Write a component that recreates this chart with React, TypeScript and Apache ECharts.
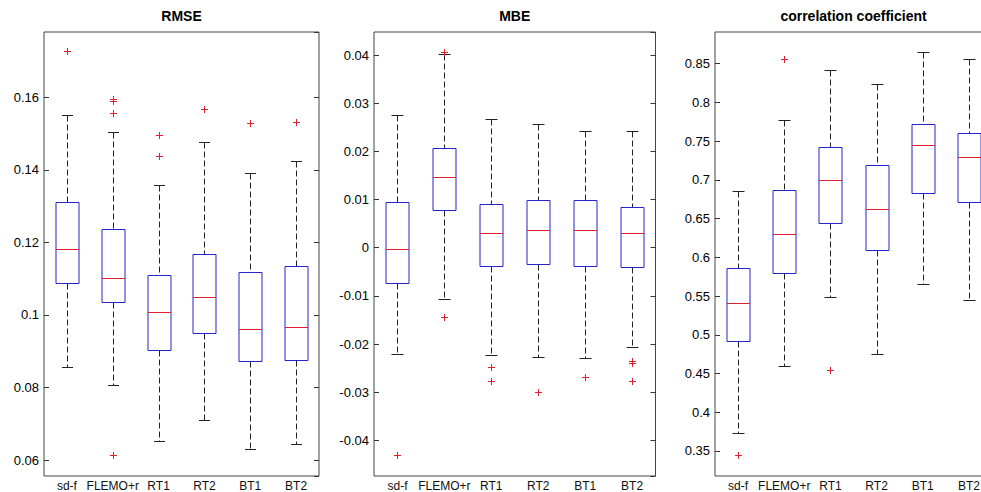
import React, { useEffect, useRef } from 'react';
import * as echarts from 'echarts';

const categories = ['sd-f', 'FLEMO+r', 'RT1', 'RT2', 'BT1', 'BT2'];

// [lower whisker, Q1, median, Q3, upper whisker]
const rmseBoxes = [
  [0.0857, 0.1089, 0.1183, 0.1311, 0.1552],
  [0.0807, 0.1035, 0.1103, 0.1236, 0.1504],
  [0.0652, 0.0903, 0.1009, 0.1111, 0.1357],
  [0.0710, 0.0950, 0.1050, 0.1169, 0.1476],
  [0.0631, 0.0873, 0.0961, 0.1118, 0.1390],
  [0.0644, 0.0877, 0.0966, 0.1135, 0.1424],
];
const rmseOutliers = [
  [0, 0.1727], [1, 0.1594], [1, 0.1589], [1, 0.1557], [1, 0.0614],
  [2, 0.1497], [2, 0.1439], [3, 0.1568], [4, 0.1529], [5, 0.1533],
];

const mbeBoxes = [
  [-0.0221, -0.0074, -0.0002, 0.0094, 0.0276],
  [-0.0106, 0.0079, 0.0146, 0.0207, 0.0402],
  [-0.0222, -0.0037, 0.0030, 0.0091, 0.0268],
  [-0.0226, -0.0034, 0.0036, 0.0099, 0.0257],
  [-0.0230, -0.0037, 0.0036, 0.0100, 0.0243],
  [-0.0206, -0.0041, 0.0030, 0.0085, 0.0243],
];
const mbeOutliers = [
  [0, -0.0430], [1, 0.0407], [1, -0.0143], [2, -0.0248], [2, -0.0277],
  [3, -0.0300], [4, -0.0269], [5, -0.0236], [5, -0.0240], [5, -0.0277],
];

const corrBoxes = [
  [0.3733, 0.4917, 0.5406, 0.5863, 0.6854],
  [0.4596, 0.5793, 0.6302, 0.6867, 0.7767],
  [0.5492, 0.6440, 0.6996, 0.7419, 0.8417],
  [0.4746, 0.6090, 0.6629, 0.7185, 0.8233],
  [0.5655, 0.6836, 0.7452, 0.7723, 0.8646],
  [0.5448, 0.6716, 0.7297, 0.7599, 0.8559],
];
const corrOutliers = [[0, 0.3448], [1, 0.8565], [2, 0.4548]];

const panelTitles = ['RMSE', 'MBE', 'correlation coefficient'];
const yRanges = [
  { min: 0.0556, max: 0.178, splitNumber: 5 },
  { min: -0.0474, max: 0.0448, splitNumber: 9 },
  { min: 0.3177, max: 0.8908, splitNumber: 11 },
];

const FONT = '"Liberation Sans", Arial, Helvetica, sans-serif';
const BLUE = '#2323d0';
const RED = '#e0202e';
const DARK = '#222';

const grids = [
  { left: 44, top: 32, width: 275, height: 444 },
  { left: 374, top: 32, width: 281.5, height: 444 },
  { left: 715, top: 32, width: 277, height: 444 },
];

function px(v: number) {
  return Math.round(v) + 0.5;
}

function renderBox(params: any, api: any) {
  const i = api.value(0);
  const low = api.coord([i, api.value(1)]);
  const q1 = api.coord([i, api.value(2)]);
  const med = api.coord([i, api.value(3)]);
  const q3 = api.coord([i, api.value(4)]);
  const high = api.coord([i, api.value(5)]);
  const band = api.size([1, 0])[0];
  const cx = px(low[0]);
  const bw = Math.round(band * 0.5);
  const cw = Math.round(band * 0.25);
  const bl = cx - bw / 2;
  const cl = cx - cw / 2;
  const dash = () => ({ stroke: DARK, lineWidth: 1, lineDash: [6, 3], fill: 'none' });
  const solid = () => ({ stroke: DARK, lineWidth: 1, fill: 'none' });
  return {
    type: 'group',
    children: [
      { type: 'line', shape: { x1: cx, y1: px(high[1]), x2: cx, y2: px(q3[1]) }, style: dash() },
      { type: 'line', shape: { x1: cx, y1: px(q1[1]), x2: cx, y2: px(low[1]) }, style: dash() },
      { type: 'line', shape: { x1: cl, y1: px(high[1]), x2: cl + cw, y2: px(high[1]) }, style: solid() },
      { type: 'line', shape: { x1: cl, y1: px(low[1]), x2: cl + cw, y2: px(low[1]) }, style: solid() },
      {
        type: 'rect',
        shape: { x: bl, y: px(q3[1]), width: bw, height: px(q1[1]) - px(q3[1]) },
        style: { stroke: BLUE, lineWidth: 1, fill: '#fff' },
      },
      { type: 'line', shape: { x1: bl, y1: px(med[1]), x2: bl + bw, y2: px(med[1]) }, style: { stroke: RED, lineWidth: 1 } },
    ],
  };
}

function renderOutlier(params: any, api: any) {
  const p = api.coord([api.value(0), api.value(1)]);
  const x = px(p[0]);
  const y = px(p[1]);
  const h = 3.5;
  return {
    type: 'group',
    children: [
      { type: 'line', shape: { x1: x - h, y1: y, x2: x + h, y2: y }, style: { stroke: RED, lineWidth: 1 } },
      { type: 'line', shape: { x1: x, y1: y - h, x2: x, y2: y + h }, style: { stroke: RED, lineWidth: 1 } },
    ],
  };
}

export default function App() {
  const ref = useRef<HTMLDivElement>(null);
  useEffect(() => {
    if (!ref.current) return;
    const chart = echarts.init(ref.current, null, { renderer: 'svg' });
    const boxSets = [rmseBoxes, mbeBoxes, corrBoxes];
    const outSets = [rmseOutliers, mbeOutliers, corrOutliers];

    const xAxis: any[] = [];
    const yAxis: any[] = [];
    const series: any[] = [];
    const graphic: any[] = [];

    grids.forEach((g, gi) => {
      xAxis.push({
        type: 'category',
        gridIndex: gi,
        data: categories,
        axisTick: { show: false },
        axisLine: { show: false },
        splitLine: { show: false },
        axisLabel: {
          color: '#111', fontSize: 12, lineHeight: 11, margin: 4, fontFamily: FONT,
          interval: 0, hideOverlap: false,
        },
      });
      const yr = yRanges[gi];
      const yBase = {
        type: 'value',
        gridIndex: gi,
        min: yr.min,
        max: yr.max,
        splitNumber: yr.splitNumber,
        axisLine: { show: false },
        splitLine: { show: false },
        axisTick: { show: true, inside: true, length: 5, lineStyle: { color: '#333' } },
      };
      yAxis.push({
        ...yBase,
        position: 'left',
        axisLabel: {
          color: '#000', fontSize: 13, margin: 5, fontFamily: FONT,
          showMinLabel: false, showMaxLabel: false,
        },
      });
      yAxis.push({
        ...yBase,
        position: 'right',
        axisLabel: { show: false },
      });
      series.push({
        type: 'custom',
        xAxisIndex: gi,
        yAxisIndex: gi * 2,
        renderItem: renderBox,
        encode: { x: 0, y: [1, 2, 3, 4, 5] },
        data: boxSets[gi].map((b, i) => [i, ...b]),
        silent: true,
      });
      series.push({
        type: 'custom',
        xAxisIndex: gi,
        yAxisIndex: gi * 2,
        renderItem: renderOutlier,
        encode: { x: 0, y: 1 },
        data: outSets[gi],
        silent: true,
      });
      graphic.push({
        type: 'text',
        x: g.left + g.width / 2,
        y: 16,
        style: {
          text: panelTitles[gi],
          fontSize: 14,
          fontWeight: 'bold',
          fontFamily: FONT,
          fill: '#000',
          align: 'center',
          verticalAlign: 'middle',
        },
      });
    });

    chart.setOption({
      animation: false,
      backgroundColor: '#fff',
      grid: grids.map((g) => ({
        ...g,
        show: true,
        borderColor: '#444',
        borderWidth: 1,
        backgroundColor: '#fff',
        containLabel: false,
        outerBoundsMode: 'none',
      })),
      xAxis,
      yAxis,
      series,
      graphic,
    });
    return () => chart.dispose();
  }, []);
  return (
    <div
      ref={ref}
      style={{ position: 'absolute', left: 0, top: 0, width: 981, height: 492, background: '#fff' }}
    />
  );
}
